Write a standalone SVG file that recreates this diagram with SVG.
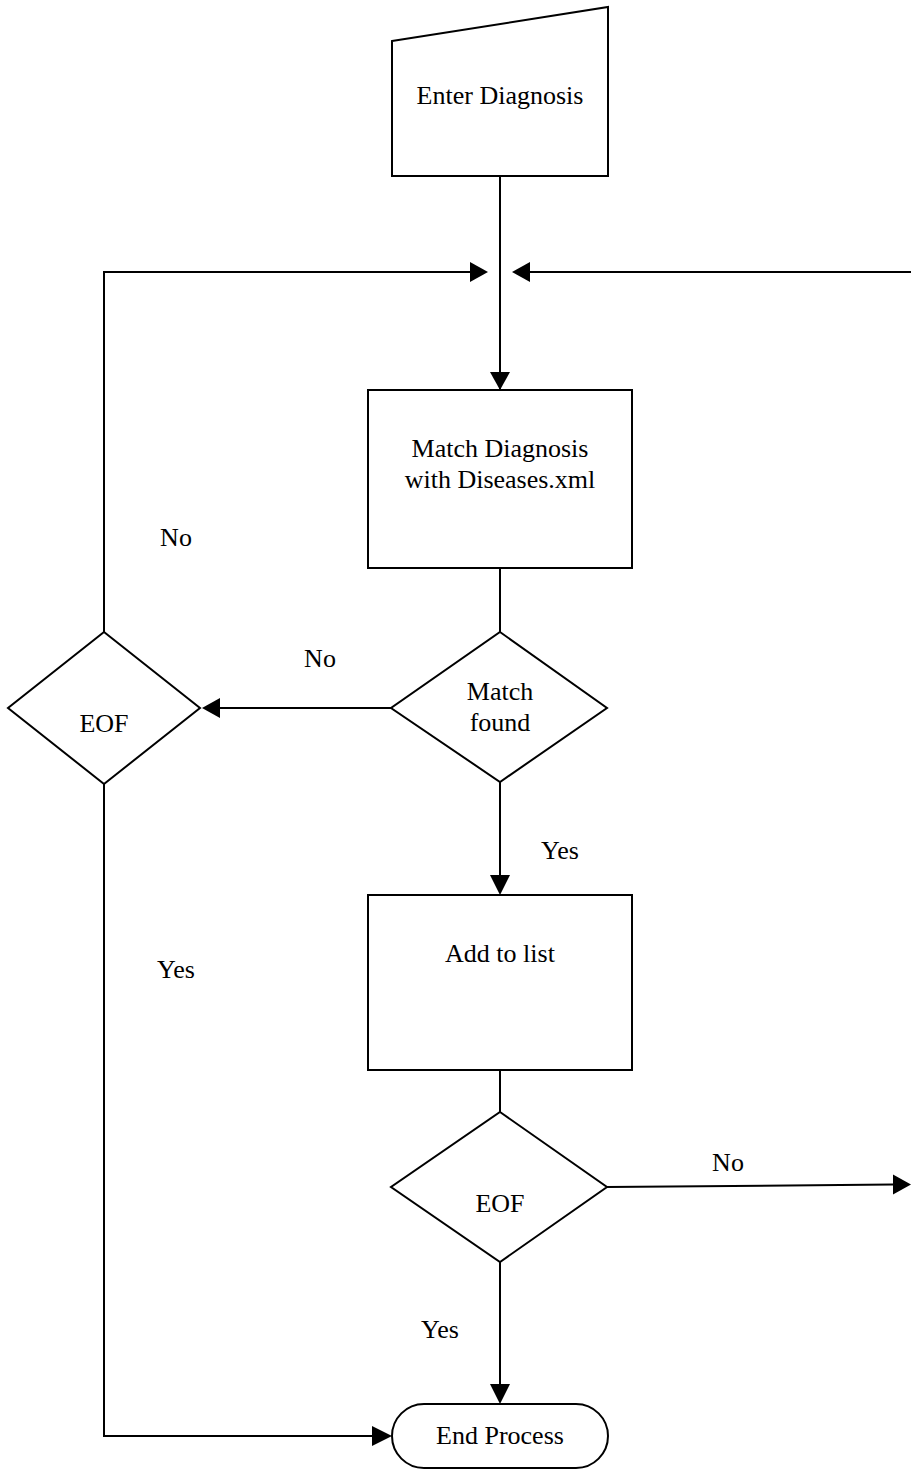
<svg xmlns="http://www.w3.org/2000/svg" width="911" height="1472" viewBox="0 0 911 1472" font-family="'Liberation Serif', 'Times New Roman', 'DejaVu Serif', serif">
<defs>
<style>
.s{fill:#fff;stroke:#000;stroke-width:2}
.c{fill:none;stroke:#000;stroke-width:2}
text{font-family:'Liberation Serif','Times New Roman','DejaVu Serif',serif;font-size:26px;fill:#000;text-anchor:middle}
</style>
</defs>
<rect width="911" height="1472" fill="#fff"/>
<g id="connectors">
<path class="c" d="M500,176 V390"/>
<path class="c" d="M104,632 V272 H470"/>
<path class="c" d="M911,272 H530"/>
<path class="c" d="M500,568 V632"/>
<path class="c" d="M391,708 H220"/>
<path class="c" d="M500,782 V875"/>
<path class="c" d="M500,1070 V1112"/>
<path class="c" d="M607,1187 L893,1184.5"/>
<path class="c" d="M500,1262 V1384"/>
<path class="c" d="M104,784 V1436 H372"/>
<polygon points="488,272 470,262 470,282" fill="#000"/>
<polygon points="512,272 530,262 530,282" fill="#000"/>
<polygon points="500,390 490,372 510,372" fill="#000"/>
<polygon points="202,708 220,698 220,718" fill="#000"/>
<polygon points="500,895 490,875 510,875" fill="#000"/>
<polygon points="911,1184.5 893,1174.5 893,1194.5" fill="#000"/>
<polygon points="500,1404 490,1384 510,1384" fill="#000"/>
<polygon points="392,1436 372,1426 372,1446" fill="#000"/>
<text x="176" y="546">No</text>
<text x="320" y="667">No</text>
<text x="560" y="859">Yes</text>
<text x="176" y="978">Yes</text>
<text x="728" y="1171">No</text>
<text x="440" y="1338">Yes</text>
</g>
<g id="enter">
<path class="s" d="M392,41 L608,7 V176 H392 Z"/>
<text x="500" y="104">Enter Diagnosis</text>
</g>
<g id="match">
<rect class="s" x="368" y="390" width="264" height="178"/>
<text x="500" y="457">Match Diagnosis</text>
<text x="500" y="488">with Diseases.xml</text>
</g>
<g id="matchfound">
<polygon class="s" points="500,632 607,708 500,782 391,708"/>
<text x="500" y="700">Match</text>
<text x="500" y="731">found</text>
</g>
<g id="eof1">
<polygon class="s" points="104,632 200,708 104,784 8,708"/>
<text x="104" y="732">EOF</text>
</g>
<g id="add">
<rect class="s" x="368" y="895" width="264" height="175"/>
<text x="500" y="962">Add to list</text>
</g>
<g id="eof2">
<polygon class="s" points="500,1112 607,1187 500,1262 391,1187"/>
<text x="500" y="1212">EOF</text>
</g>
<g id="end">
<rect class="s" x="392" y="1404" width="216" height="64" rx="32" ry="32"/>
<text x="500" y="1444">End Process</text>
</g>
</svg>
